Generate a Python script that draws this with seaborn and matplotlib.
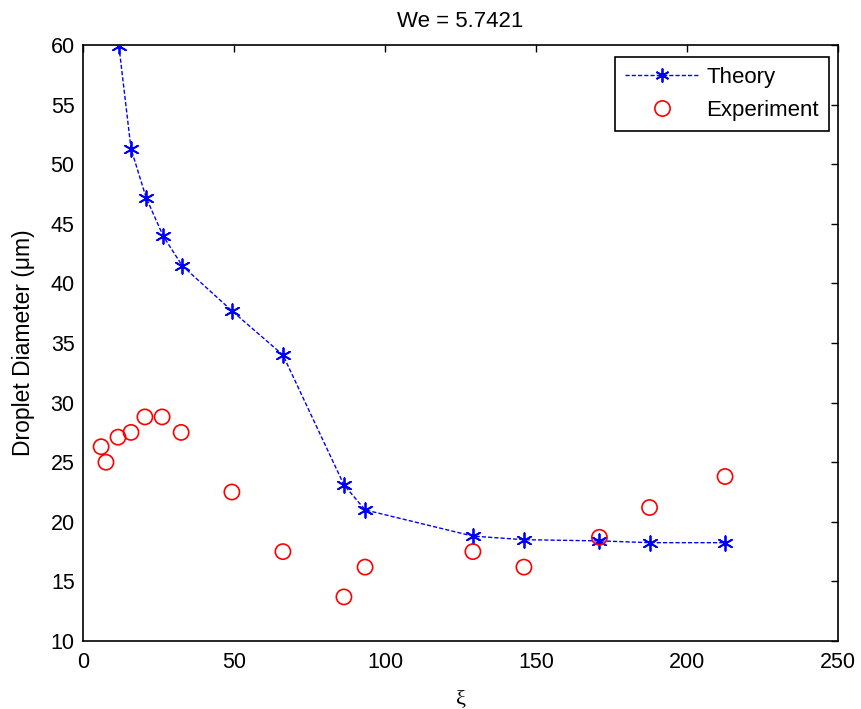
import numpy as np
import pandas as pd
import matplotlib
matplotlib.use("Agg")
import matplotlib.pyplot as plt
import seaborn as sns
from matplotlib.lines import Line2D

theory_x = [11.9, 15.9, 20.9, 26.5, 32.8, 49.3, 66.2, 86.4, 93.4, 129.1, 146.0, 171.0, 187.6, 212.6]
theory_y = [59.9, 51.3, 47.2, 44.0, 41.5, 37.7, 34.0, 23.1, 21.0, 18.8, 18.5, 18.4, 18.25, 18.25]
exp_x = [6.0, 7.6, 11.6, 15.9, 20.5, 26.2, 32.5, 49.3, 66.2, 86.4, 93.4, 129.1, 146.0, 171.0, 187.6, 212.6]
exp_y = [26.3, 25.0, 27.1, 27.5, 28.8, 28.8, 27.5, 22.5, 17.5, 13.7, 16.2, 17.5, 16.2, 18.7, 21.2, 23.8]
legend_labels = ["Theory", "Experiment"]

sns.set_style("white")
plt.rcParams['font.family'] = ['Liberation Sans', 'DejaVu Sans']
plt.rcParams['text.color'] = 'black'
plt.rcParams['axes.labelcolor'] = 'black'
plt.rcParams['xtick.color'] = 'black'
plt.rcParams['ytick.color'] = 'black'

fig = plt.figure(figsize=(8.61, 7.09), dpi=100)
ax = fig.add_axes([0.0964, 0.0959, 0.8769, 0.8406])

dft = pd.DataFrame({"x": theory_x, "y": theory_y})
dfe = pd.DataFrame({"x": exp_x, "y": exp_y})

sns.lineplot(data=dft, x="x", y="y", ax=ax, color="blue", linewidth=1.0, label="_nolegend_")
ax.lines[-1].set_linestyle((0, (3, 1.5)))
sns.scatterplot(data=dft, x="x", y="y", ax=ax, marker=(6, 2, 0), s=110, color="blue",
                linewidth=1.3, edgecolor="blue", zorder=3)
sns.scatterplot(data=dfe, x="x", y="y", ax=ax, marker="o", s=120, facecolor="none",
                edgecolor="red", linewidth=1.2, zorder=4)

ax.set_xlim(0, 250)
ax.set_ylim(10, 60)
ax.set_xticks(np.arange(0, 251, 50))
ax.set_yticks(np.arange(10, 61, 5))
ax.tick_params(direction="in", length=5, width=1, labelsize=15.5, top=True, right=True,
               colors="black")
ax.tick_params(axis="x", pad=8)
ax.tick_params(axis="y", pad=6)
for s in ax.spines.values():
    s.set_visible(True)
    s.set_color("black")
    s.set_linewidth(1.2)
ax.set_xlabel("ξ", fontsize=16, family=["Liberation Serif", "DejaVu Serif"], labelpad=12)
ax.set_ylabel("Droplet Diameter (μm)", fontsize=16.5, labelpad=11)
ax.set_title("We = 5.7421", fontsize=16, pad=13)

h1 = Line2D([], [], color="blue", linestyle=(0, (3, 1.5)), linewidth=1.0,
            marker=(6, 2, 0), markersize=10, markeredgewidth=1.3)
h2 = Line2D([], [], color="red", linestyle="none", marker="o", markersize=11,
            markerfacecolor="none", markeredgewidth=1.2)
leg = ax.legend([h1, h2], legend_labels, loc="upper right", fontsize=16,
                bbox_to_anchor=(0.988, 0.980), borderaxespad=0.0,
                frameon=True, fancybox=False, edgecolor="black", handlelength=3.3,
                labelspacing=0.55, handletextpad=0.35, borderpad=0.45)
leg.get_frame().set_linewidth(1.2)
leg.get_frame().set_alpha(1)

fig.savefig("out.png", dpi=100)
